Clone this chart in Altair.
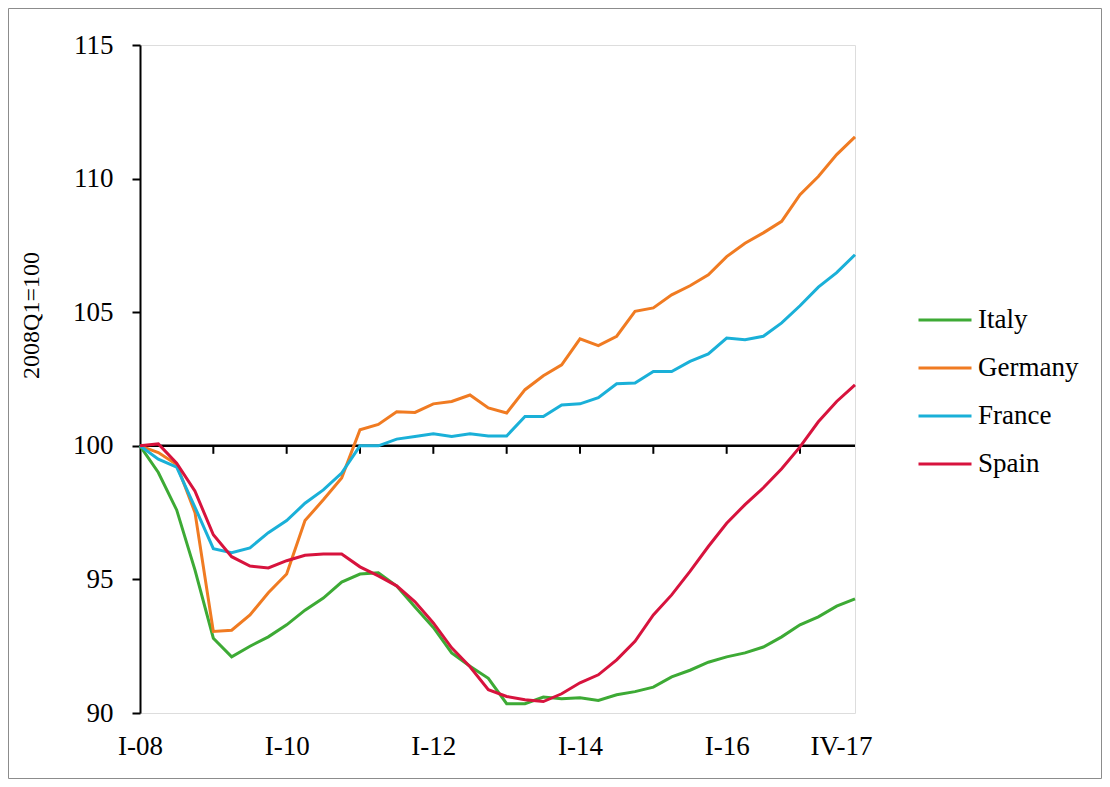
import altair as alt
import pandas as pd

# ---- data (quarterly, 2008Q1 .. 2017Q4, index 2008Q1 = 100) ----
quarters = list(range(40))
italy = [100, 99.0, 97.6, 95.35, 92.8, 92.1, 92.5, 92.85, 93.3, 93.85,
         94.3, 94.9, 95.2, 95.25, 94.75, 93.97, 93.2, 92.25, 91.75, 91.3,
         90.35, 90.35, 90.6, 90.53, 90.57, 90.47, 90.68, 90.8, 90.97, 91.35,
         91.6, 91.9, 92.1, 92.25, 92.47, 92.85, 93.3, 93.6, 94.0, 94.27]
germany = [100, 99.75, 99.3, 97.5, 93.05, 93.1, 93.67, 94.5, 95.2, 97.2,
           97.98, 98.8, 100.6, 100.8, 101.27, 101.25, 101.57, 101.66, 101.9, 101.42,
           101.23, 102.1, 102.62, 103.03, 104.0, 103.75, 104.1, 105.03, 105.16, 105.65,
           105.99, 106.4, 107.08, 107.58, 107.97, 108.4, 109.4, 110.08, 110.9, 111.56]
france = [100, 99.5, 99.2, 97.7, 96.15, 96.0, 96.18, 96.75, 97.2, 97.85,
          98.35, 98.98, 100.0, 100.0, 100.25, 100.35, 100.45, 100.35, 100.45, 100.37,
          100.37, 101.1, 101.1, 101.53, 101.57, 101.8, 102.32, 102.35, 102.78, 102.78,
          103.16, 103.44, 104.03, 103.97, 104.1, 104.6, 105.24, 105.94, 106.48, 107.15]
spain = [100, 100.07, 99.35, 98.3, 96.67, 95.85, 95.5, 95.43, 95.7, 95.9,
         95.95, 95.95, 95.47, 95.13, 94.76, 94.16, 93.37, 92.44, 91.73, 90.87,
         90.62, 90.5, 90.43, 90.72, 91.13, 91.43, 91.99, 92.68, 93.67, 94.42,
         95.3, 96.23, 97.1, 97.8, 98.43, 99.14, 99.96, 100.9, 101.66, 102.28]

countries = ["Italy", "Germany", "France", "Spain"]
colors = ["#3DAA35", "#F07B22", "#1AB0D8", "#D7133D"]
series = [italy, germany, france, spain]

label_values = [0, 8, 16, 24, 32, 39]
label_texts = ["I-08", "I-10", "I-12", "I-14", "I-16", "IV-17"]
tick_quarters = [4, 8, 12, 16, 20, 24, 28, 32, 36]
y_ticks = [90, 95, 100, 105, 110, 115]

FONT = "Liberation Serif"

rows = []
for c, vals in zip(countries, series):
    for q, v in zip(quarters, vals):
        rows.append({"q": q, "value": v, "country": c})
df = pd.DataFrame(rows)

# label expression from the label lists
expr = "''"
for v, t in reversed(list(zip(label_values, label_texts))):
    expr = f"datum.value == {v} ? '{t}' : ({expr})"

x_scale = alt.Scale(domain=[0, 39], nice=False, zero=False)
y_scale = alt.Scale(domain=[90, 115], nice=False, zero=False)

x_axis = alt.Axis(values=label_values, labelExpr=expr, domain=False, ticks=False,
                  grid=False, labelPadding=20, labelFontSize=27, labelFont=FONT,
                  labelColor="black", labelFlush=False, labelOverlap=False,
                  labelOffset={"condition": {"test": "datum.value == 39", "value": -14}, "value": 0},
                  title=None)
y_axis = alt.Axis(values=y_ticks, domain=True, domainColor="black", domainWidth=2,
                  ticks=True, tickSize=8, tickWidth=2, tickColor="black", grid=False,
                  labelFontSize=27, labelFont=FONT, labelColor="black", labelPadding=19,
                  title="2008Q1=100", titleFont=FONT, titleFontSize=24,
                  titleFontWeight="normal", titleColor="black", titleAngle=-90,
                  titleX=-109, titleY=270, titleAlign="center", titleBaseline="middle")

# figure border
border = alt.Chart(pd.DataFrame({"a": [0]})).mark_rect(
    fillOpacity=0, stroke="#8c8c8c", strokeWidth=1
).encode(x=alt.value(-131.5), x2=alt.value(961.5), y=alt.value(-36.5), y2=alt.value(733.5))

# horizontal axis line at 100
base_df = pd.DataFrame({"q": [quarters[0]], "q2": [quarters[-1]], "value": [100]})
rule100 = alt.Chart(base_df).mark_rule(color="black", strokeWidth=2.5).encode(
    x=alt.X("q:Q", scale=x_scale, axis=x_axis),
    x2="q2:Q",
    y=alt.Y("value:Q", scale=y_scale, axis=y_axis),
)

tick_df = pd.DataFrame({"q": tick_quarters, "value": [100] * len(tick_quarters),
                        "value2": [99.7] * len(tick_quarters)})
ticks = alt.Chart(tick_df).mark_rule(color="black", strokeWidth=2).encode(
    x=alt.X("q:Q", scale=x_scale, axis=x_axis),
    y=alt.Y("value:Q", scale=y_scale, axis=y_axis),
    y2="value2:Q",
)

lines = alt.Chart(df).mark_line(strokeWidth=3).encode(
    x=alt.X("q:Q", scale=x_scale, axis=x_axis),
    y=alt.Y("value:Q", scale=y_scale, axis=y_axis),
    color=alt.Color("country:N", scale=alt.Scale(domain=countries, range=colors),
                    sort=countries,
                    legend=alt.Legend(title=None, orient="none", legendX=777, legendY=252,
                                      symbolType="stroke", symbolSize=2809,
                                      symbolStrokeWidth=3, labelFontSize=27,
                                      labelFont=FONT, labelColor="black",
                                      clipHeight=46, rowPadding=2, labelOffset=5,
                                      padding=0)),
    order=alt.Order("q:Q"),
)

chart = alt.layer(border, rule100, ticks, lines).properties(
    width=715, height=668,
    autosize=alt.AutoSizeParams(type="none"),
    padding={"left": 132, "top": 37, "right": 247, "bottom": 66},
).configure_view(stroke=None).configure(font=FONT)

chart.save("out.html", embed_options={"renderer": "svg", "actions": False})
